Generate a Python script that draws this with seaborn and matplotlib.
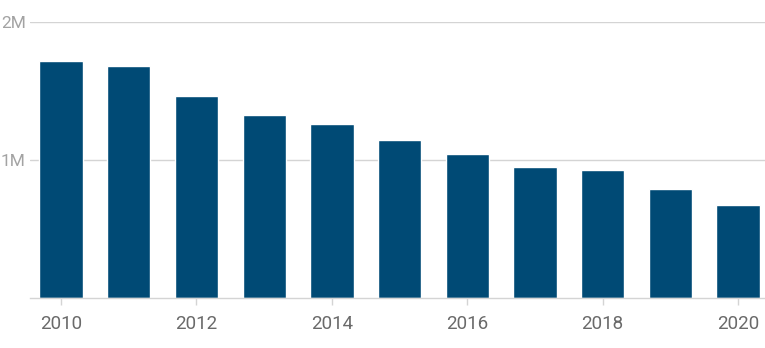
import matplotlib
matplotlib.use("Agg")
import matplotlib.pyplot as plt
import seaborn as sns
import pandas as pd

years = [2010, 2011, 2012, 2013, 2014, 2015, 2016, 2017, 2018, 2019, 2020]
values = [1.715, 1.679, 1.466, 1.326, 1.261, 1.145, 1.043, 0.949, 0.928, 0.790, 0.674]  # millions
tick_years = [2010, 2012, 2014, 2016, 2018, 2020]
y_ticks = [1e6, 2e6]
y_labels = ["1M", "2M"]

df = pd.DataFrame({"year": [str(y) for y in years], "value": [v * 1e6 for v in values]})

sns.set_theme(style="white")
plt.rcParams["font.family"] = ["Roboto", "DejaVu Sans"]

fig = plt.figure(figsize=(7.65, 3.48), dpi=100)
ax = fig.add_axes([30 / 765, 1 - 298 / 348, 1 - 30 / 765, (298 - 22) / 348])

sns.barplot(data=df, x="year", y="value", color="#004a75", width=0.64,
            saturation=1, ax=ax, zorder=3)

ax.set_ylim(0, 2e6)
ax.set_xlim(-0.46, 10.4)
ax.set_yticks(y_ticks)
ax.set_yticklabels(y_labels)
ax.yaxis.grid(True, color="#d4d4d4", linewidth=1, zorder=0)
ax.set_axisbelow(True)

pos = [years.index(y) for y in tick_years]
ax.set_xticks(pos)
ax.set_xticklabels([str(y) for y in tick_years])

for s in ["top", "right", "left"]:
    ax.spines[s].set_visible(False)
ax.spines["bottom"].set_color("#d4d4d4")
ax.spines["bottom"].set_linewidth(1)
ax.spines["bottom"].set_zorder(4)

ax.tick_params(axis="x", length=5, width=1, color="#d4d4d4", labelsize=13.5,
               labelcolor="#6a6a6a", pad=7, bottom=True)
ax.tick_params(axis="y", length=0, labelsize=12.5, labelcolor="#a3a3a3", pad=3)
ax.set_xlabel("")
ax.set_ylabel("")

fig.savefig("out.png", dpi=100)
